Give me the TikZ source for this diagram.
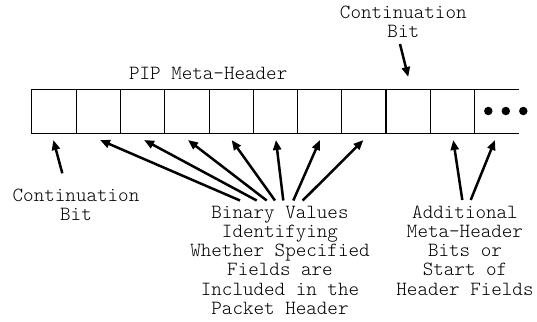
\documentclass[tikz,border=0pt]{standalone}
\usepackage{fontspec}
\setmonofont{Latin Modern Mono Light}
\usetikzlibrary{arrows.meta}
\begin{document}
\begin{tikzpicture}[x=1pt,y=-1pt,
  cell/.style={draw, line width=0.8pt, minimum width=44.3pt, minimum height=44pt, inner sep=0pt, outer sep=0pt},
  lbl/.style={font=\ttfamily\fontsize{20.1}{19.2}\selectfont, align=center, inner sep=0pt, anchor=base},
  arr/.style={line width=2.5pt, -{Triangle[length=10pt,width=8pt]}},
  dotn/.style={circle, fill, inner sep=0pt, minimum size=8.5pt}]
\useasboundingbox (0,0) rectangle (537,321);
\foreach \i in {1,...,10} \node[cell] (c\i) at ({31.7+44.3*(\i-0.5)},111) {};
\draw[line width=1.6pt] (c8.north east) -- (c8.south east);
\coordinate (e1) at (519,89);
\coordinate (e2) at (519,133);
\draw[line width=0.8pt] (c10.north east) -- (e1);
\draw[line width=0.8pt] (c10.south east) -- (e2);
\node[dotn] (d1) at (488.3,111) {};
\node[dotn] (d2) at (505.8,111) {};
\node[dotn] (d3) at (523.3,111) {};
% labels (anchor = baseline of last line)
\node[lbl] (title) at (208.2,79) {PIP Meta-Header};
\node[lbl] (topcb) at (403.3,37.5) {Continuation\\Bit};
\node[lbl] (leftcb) at (76,220.2) {Continuation\\Bit};
\node[lbl] (bin) at (280,314.3) {Binary Values\\Identifying\\Whether Specified\\Fields are\\Included in the\\Packet Header};
\node[lbl] (add) at (465,295.1) {Additional\\Meta-Header\\Bits or\\Start of\\Header Fields};
% arrow tails
\coordinate (t0) at (400,44);
\coordinate (l0) at (62.3,173.3);
\coordinate (b1) at (240,200.5);
\coordinate (b2) at (256.7,200.5);
\coordinate (b3) at (266.7,200.5);
\coordinate (b4) at (275,200.5);
\coordinate (b5) at (283.3,200.5);
\coordinate (b6) at (293.3,200.5);
\coordinate (b7) at (302.7,200.5);
\coordinate (a1) at (462.3,200);
\coordinate (a2) at (470.7,200);
\coordinate (dots) at (495,140);
% arrows
\draw[arr] (t0) -- ([yshift=12pt]c9.north);
\draw[arr] (l0) -- ([xshift=-0.5pt,yshift=-7pt]c1.south);
\draw[arr] (b1) -- ([xshift=1.8pt,yshift=-7pt]c2.south);
\draw[arr] (b2) -- ([xshift=1.6pt,yshift=-7pt]c3.south);
\draw[arr] (b3) -- ([xshift=1.2pt,yshift=-7pt]c4.south);
\draw[arr] (b4) -- ([xshift=0.6pt,yshift=-7pt]c5.south);
\draw[arr] (b5) -- ([xshift=0.6pt,yshift=-7pt]c6.south);
\draw[arr] (b6) -- ([xshift=0.3pt,yshift=-7pt]c7.south);
\draw[arr] (b7) -- ([xshift=-0.5pt,yshift=-7pt]c8.south);
\draw[arr] (a1) -- ([xshift=0.7pt,yshift=-7pt]c10.south);
\draw[arr] (a2) -- (dots);
\end{tikzpicture}
\end{document}
